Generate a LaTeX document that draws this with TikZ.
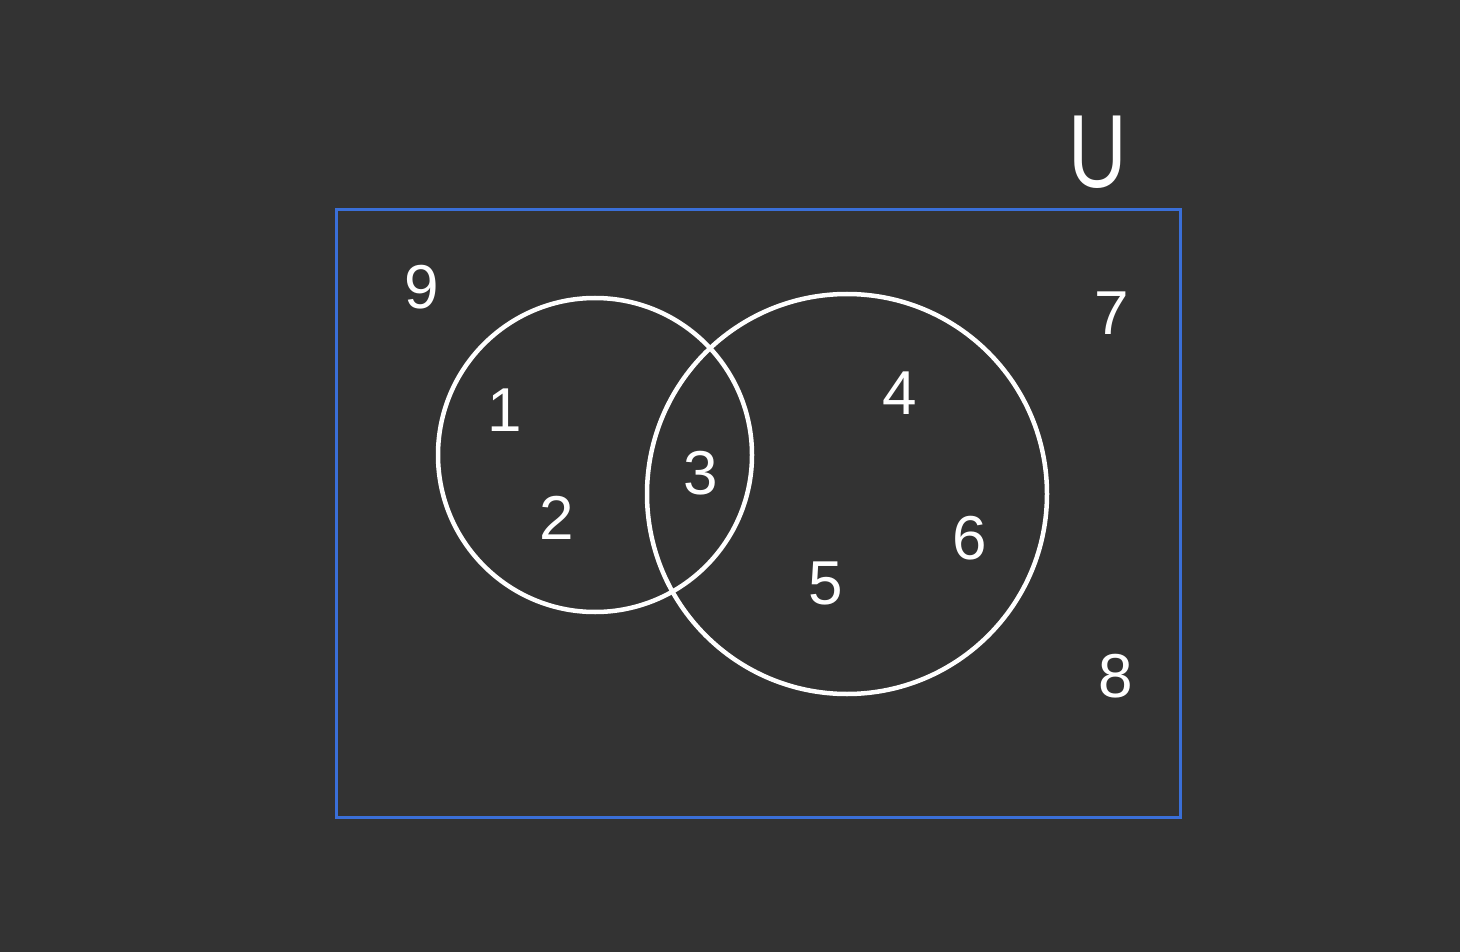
\documentclass[tikz,border=0pt]{standalone}
\usepackage{fontspec}
\setmainfont{Liberation Sans}
\definecolor{bg}{HTML}{333333}
\definecolor{frameblue}{HTML}{3A6FD8}
\begin{document}
\begin{tikzpicture}[x=1pt,y=-1pt,
  setcircle/.style={draw=white,line width=4.5pt},
  num/.style={text=white,inner sep=0pt,font=\fontsize{62}{70}\selectfont},
  unilabel/.style={text=white,inner sep=0pt,xscale=0.78,transform shape,font=\fontsize{104}{110}\selectfont}]
\fill[bg] (0,0) rectangle (1460,952);
\useasboundingbox (0,0) rectangle (1460,952);
\draw[frameblue,line width=3pt] (336,210) rectangle (1180,817);
\node[setcircle,circle,minimum size=314pt,inner sep=0pt] (A) at (595,455) {};
\node[setcircle,circle,minimum size=400pt,inner sep=0pt] (B) at (847,494) {};
\node[unilabel] (U) at (1098,152) {U};
\node[num] (n9) at (422,287) {9};
\node[num] (n1) at (505,410) {1};
\node[num] (n2) at (557,518) {2};
\node[num] (n3) at (701,473) {3};
\node[num] (n4) at (900,393) {4};
\node[num] (n5) at (826,583) {5};
\node[num] (n6) at (970,538) {6};
\node[num] (n7) at (1112,313) {7};
\node[num] (n8) at (1116,676) {8};
\end{tikzpicture}
\end{document}
